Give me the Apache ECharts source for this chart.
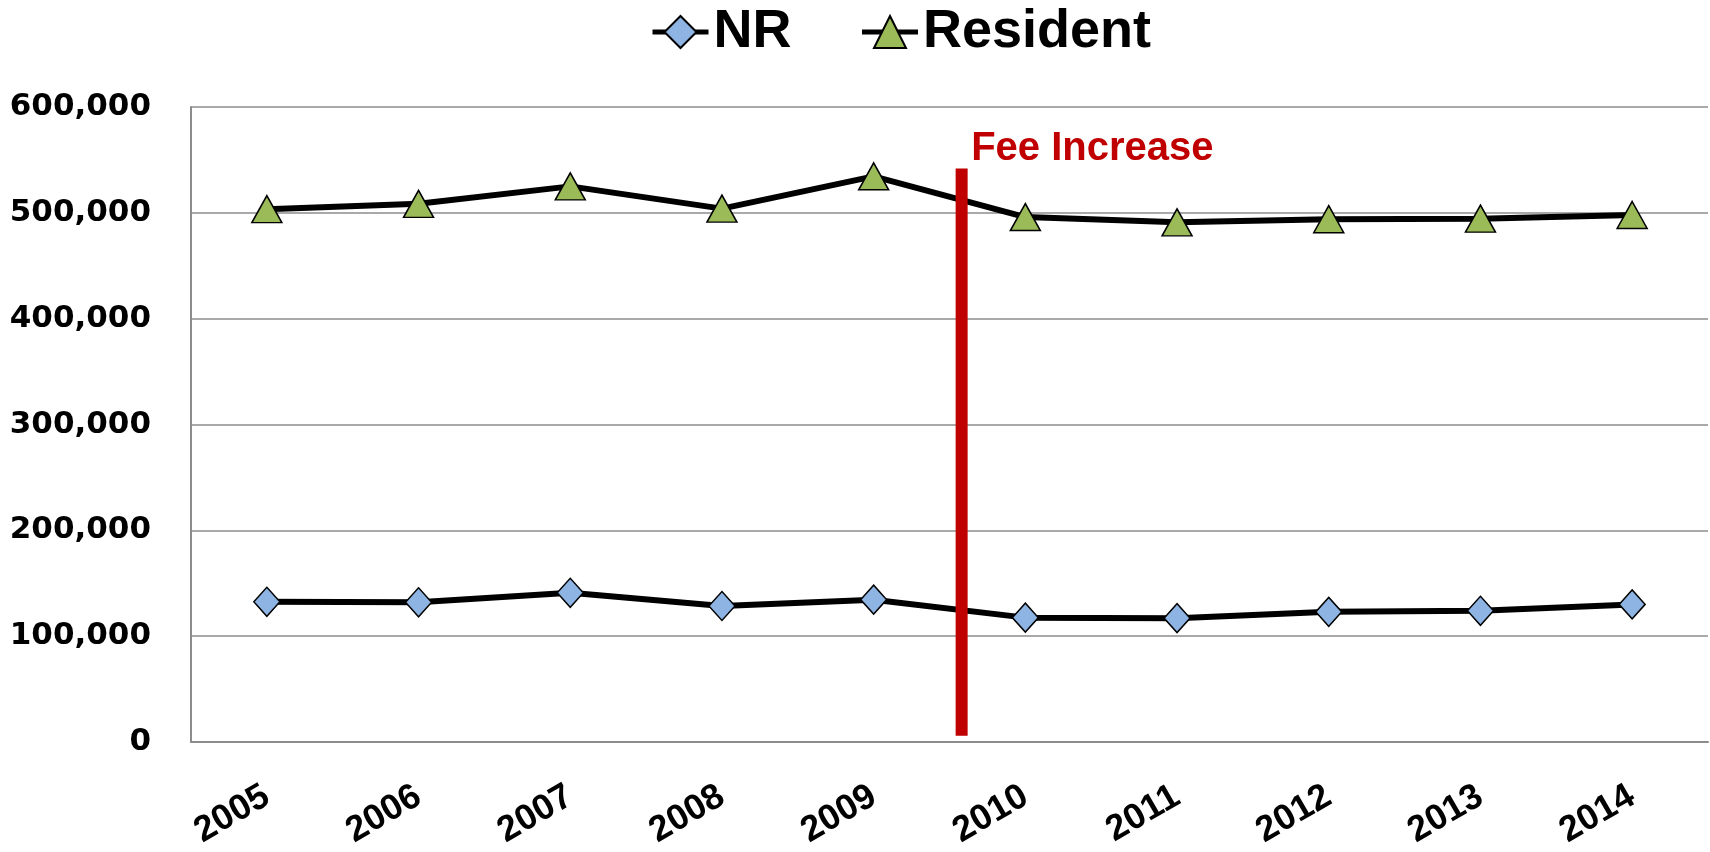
<!DOCTYPE html>
<html>
<head>
<meta charset="utf-8">
<script src="https://cdn.jsdelivr.net/npm/echarts@6/dist/echarts.min.js"></script>
<style>
  html, body { margin: 0; padding: 0; background: #fff; }
  #chart { width: 1710px; height: 852px; }
</style>
</head>
<body>
<div id="chart"></div>
<script>
// years on the x axis
const years = ['2005', '2006', '2007', '2008', '2009', '2010', '2011', '2012', '2013', '2014'];
// NR / Resident values
const nrValues = [132500, 132000, 141000, 128500, 134500, 117500, 117000, 123000, 124000, 130000];
const residentValues = [503500, 508500, 525000, 504000, 534500, 496000, 491000, 494000, 494500, 498000];
// fee increase marker (x in category units, between 2009 and 2010)
const feeX = [4.58, 4.58];
const feeY = [6000, 542000];
const feeLabel = 'Fee Increase';

const chart = echarts.init(document.getElementById('chart'));

const feeData = feeX.map(function (x, i) {
  const item = { value: [x, feeY[i]] };
  if (i === feeX.length - 1) {
    item.label = {
      show: true,
      position: 'right',
      distance: 9,
      offset: [0, -19],
      formatter: feeLabel,
      color: '#C00000',
      fontFamily: 'Liberation Sans',
      fontWeight: 'bold',
      fontSize: 40
    };
  }
  return item;
});

chart.setOption({
  animation: false,
  legend: {
    data: ['NR', 'Resident'],
    left: 645,
    top: 0,
    itemWidth: 56,
    itemHeight: 40,
    itemGap: 68,
    lineStyle: { width: 5 },
    textStyle: {
      fontFamily: 'Liberation Sans',
      fontWeight: 'bold',
      fontSize: 54,
      color: '#000'
    }
  },
  grid: {
    left: 191,
    right: 2,
    top: 107,
    bottom: 110
  },
  xAxis: [
    {
      type: 'category',
      data: years,
      boundaryGap: true,
      axisLine: { lineStyle: { color: '#8c8c8c', width: 2 } },
      axisTick: { show: false },
      axisLabel: {
        rotate: 30,
        margin: 52,
        color: '#000',
        fontFamily: 'Liberation Sans',
        fontWeight: 'bold',
        fontSize: 36
      }
    },
    {
      type: 'value',
      min: -0.5,
      max: 9.5,
      show: false
    }
  ],
  yAxis: {
    type: 'value',
    min: 0,
    max: 600000,
    interval: 100000,
    axisLine: { show: true, onZero: false, lineStyle: { color: '#8c8c8c', width: 2 } },
    axisTick: { show: false },
    splitLine: { lineStyle: { color: '#8c8c8c', width: 1.5 } },
    axisLabel: {
      margin: 40,
      color: '#000',
      fontFamily: 'DejaVu Sans',
      fontWeight: 'bold',
      fontSize: 31,
      formatter: function (v) { return v.toLocaleString('en-US'); }
    }
  },
  series: [
    {
      name: 'NR',
      type: 'line',
      data: nrValues,
      symbol: 'diamond',
      symbolSize: [26, 29],
      lineStyle: { color: '#000', width: 6 },
      itemStyle: { color: '#8DB4E2', borderColor: '#000', borderWidth: 1.5 }
    },
    {
      name: 'Resident',
      type: 'line',
      data: residentValues,
      symbol: 'triangle',
      symbolSize: [30, 27],
      lineStyle: { color: '#000', width: 6 },
      itemStyle: { color: '#9BBB59', borderColor: '#000', borderWidth: 1.5 }
    },
    {
      name: 'fee',
      type: 'line',
      xAxisIndex: 1,
      data: feeData,
      symbol: 'circle',
      symbolSize: 1,
      showSymbol: true,
      z: 5,
      itemStyle: { color: 'rgba(0,0,0,0)' },
      lineStyle: { color: '#C00000', width: 12, cap: 'butt' }
    }
  ]
});
</script>
</body>
</html>
